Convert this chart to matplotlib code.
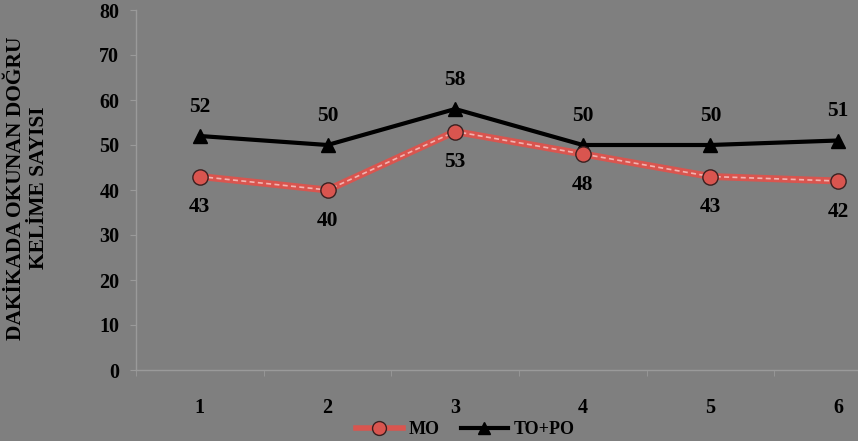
import numpy as np
import matplotlib
matplotlib.use("Agg")
import matplotlib.pyplot as plt
from matplotlib.lines import Line2D

# data
sessions = [1, 2, 3, 4, 5, 6]
mo = [43, 40, 53, 48, 43, 42]
to_po = [52, 50, 58, 50, 50, 51]
y_ticks = [0, 10, 20, 30, 40, 50, 60, 70, 80]
y_label = "DAKİKADA OKUNAN DOĞRU\nKELİME SAYISI"

red = "#d9554f"
axis_grey = "#9a9a9a"
bg = (0.0, 0.0, 0.0, 0.5)   # semi transparent black, as in the reference

plt.rcParams["font.family"] = ["Liberation Serif", "DejaVu Serif"]
plt.rcParams["font.weight"] = "bold"

fig = plt.figure(figsize=(8.58, 4.41), dpi=100)
fig.patch.set_facecolor(bg)
ax = fig.add_axes([136 / 858, 1 - 370 / 441, 766 / 858, 360 / 441])
ax.set_facecolor("none")

x = np.array(sessions)

# TO+PO series: black line with triangles
ax.plot(x, to_po, color="black", lw=3, marker="^", ms=10,
        mfc="black", mec="black", zorder=3, clip_on=False)

# MO series: red line with light dashed core and red circles
ax.plot(x, mo, color=red, lw=5, zorder=4, clip_on=False)
ax.plot(x, mo, color="#f2b3b0", lw=1.2, dashes=(3, 2), zorder=5, clip_on=False)
ax.plot(x, mo, ls="none", marker="o", ms=11, mfc=red, mec="#3a2020",
        mew=1.0, zorder=6, clip_on=False)

# data labels
for xi, v in zip(x, to_po):
    ax.annotate(str(v), (xi, v), xytext=(0, 21), textcoords="offset points",
                ha="center", va="center", fontsize=15.5, fontweight="bold",
                color="black", annotation_clip=False)
for xi, v in zip(x, mo):
    ax.annotate(str(v), (xi, v), xytext=(0, -22), textcoords="offset points",
                ha="center", va="center", fontsize=15.5, fontweight="bold",
                color="black", annotation_clip=False)

# axes
ax.set_ylim(0, 80)
ax.set_xlim(0.5, 6.5)
ax.set_yticks(y_ticks)
ax.set_xticks(sessions)
ax.set_xticks(np.arange(0.5, 7.0, 1.0), minor=True)
ax.tick_params(axis="y", length=4, color=axis_grey, pad=8, labelsize=14.5)
ax.tick_params(axis="x", which="major", length=0, pad=20, labelsize=14.5)
ax.tick_params(axis="x", which="minor", length=4, color=axis_grey)
for lbl in ax.get_xticklabels() + ax.get_yticklabels():
    lbl.set_fontweight("bold")

for side in ["top", "right"]:
    ax.spines[side].set_visible(False)
for side in ["left", "bottom"]:
    ax.spines[side].set_color(axis_grey)
    ax.spines[side].set_linewidth(1.0)

fig.text(0.032, 1 - 188 / 441, y_label, rotation=90, ha="center", va="center",
         fontsize=15.5, fontweight="bold", linespacing=1.25, multialignment="center")

# legend
handles = [
    Line2D([], [], color=red, lw=4, marker="o", ms=10, mfc=red, mec="#3a2020"),
    Line2D([], [], color="black", lw=3, marker="^", ms=9, mfc="black"),
]
fig.legend(handles, ["MO", "TO+PO"], loc="center", bbox_to_anchor=(0.542, 0.026),
           ncol=2, frameon=False, handlelength=2.6,
           columnspacing=1.2, handletextpad=0.3, prop={"weight": "bold", "size": 13})

fig.savefig("out.png", dpi=100, facecolor=bg)
